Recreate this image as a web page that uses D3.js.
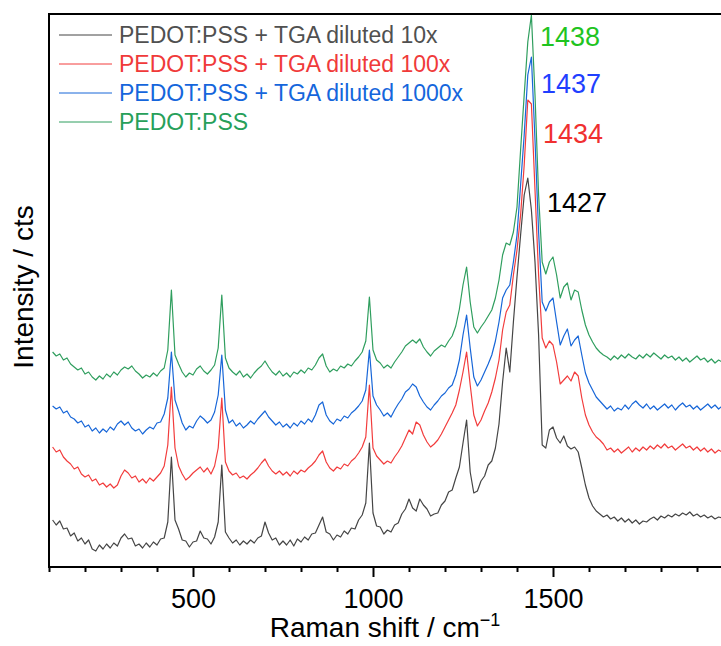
<!DOCTYPE html>
<html>
<head>
<meta charset="utf-8">
<script src="https://cdn.jsdelivr.net/npm/d3@7"></script>
<style>
  body { margin: 0; background: #fff; }
  svg { display: block; font-family: "Liberation Sans", Arial, sans-serif; }
</style>
</head>
<body>
<div id="chart"></div>
<script>
// Raman shift grid (cm-1)
const wavenumbers = [
  110, 120, 130, 140, 150, 160, 170, 180, 190, 200,
  210, 220, 230, 240, 250, 260, 270, 280, 290, 300,
  310, 320, 330, 340, 350, 360, 370, 380, 390, 400,
  410, 420, 430, 440, 450, 460, 470, 480, 490, 500,
  510, 520, 530, 540, 550, 560, 570, 580, 590, 600,
  610, 620, 630, 640, 650, 660, 670, 680, 690, 700,
  710, 720, 730, 740, 750, 760, 770, 780, 790, 800,
  810, 820, 830, 840, 850, 860, 870, 880, 890, 900,
  910, 920, 930, 940, 950, 960, 970, 980, 990, 1000,
  1010, 1020, 1030, 1040, 1050, 1060, 1070, 1080, 1090, 1100,
  1110, 1120, 1130, 1140, 1150, 1160, 1170, 1180, 1190, 1200,
  1210, 1220, 1230, 1240, 1250, 1260, 1270, 1280, 1290, 1300,
  1310, 1320, 1330, 1340, 1350, 1360, 1370, 1380, 1390, 1400,
  1410, 1420, 1430, 1440, 1450, 1460, 1470, 1480, 1490, 1500,
  1510, 1520, 1530, 1540, 1550, 1560, 1570, 1580, 1590, 1600,
  1610, 1620, 1630, 1640, 1650, 1660, 1670, 1680, 1690, 1700,
  1710, 1720, 1730, 1740, 1750, 1760, 1770, 1780, 1790, 1800,
  1810, 1820, 1830, 1840, 1850, 1860, 1870, 1880, 1890, 1900,
  1910, 1920, 1930, 1940, 1950, 1960, 1970
];

// stacked intensities (cts, offset for display)
const tga10 = [
  80, 75, 79, 71, 72, 64, 67, 59, 62, 56,
  60, 51, 49, 55, 51, 56, 52, 57, 54, 62,
  66, 61, 62, 54, 56, 52, 57, 53, 58, 55,
  61, 62, 78, 143, 80, 71, 60, 59, 53, 58,
  59, 69, 62, 61, 56, 63, 78, 135, 68, 62,
  57, 60, 55, 59, 56, 60, 57, 62, 64, 78,
  67, 60, 62, 55, 59, 55, 60, 54, 61, 58,
  63, 60, 66, 67, 75, 83, 68, 66, 60, 65,
  63, 69, 66, 72, 71, 80, 85, 97, 157, 87,
  74, 73, 66, 70, 68, 75, 77, 86, 91, 101,
  92, 89, 101, 95, 91, 84, 86, 87, 95, 99,
  108, 110, 122, 133, 157, 180, 128, 107, 109, 119,
  124, 135, 139, 152, 176, 218, 252, 228, 278, 323,
  365, 405, 422, 390, 338, 265, 155, 152, 170, 173,
  162, 157, 164, 154, 151, 153, 148, 132, 115, 102,
  94, 89, 86, 83, 85, 81, 83, 79, 82, 78,
  81, 77, 80, 76, 79, 78, 81, 83, 80, 84,
  82, 85, 83, 86, 84, 87, 85, 88, 84, 86,
  83, 85, 82, 84, 81, 83, 82
];

const tga100 = [
  153, 148, 150, 143, 139, 136, 131, 133, 126, 123,
  125, 119, 121, 115, 117, 113, 116, 112, 115, 124,
  130, 127, 122, 124, 118, 121, 117, 122, 119, 123,
  127, 134, 155, 213, 152, 134, 126, 120, 123, 127,
  130, 133, 128, 132, 126, 134, 152, 202, 138, 129,
  125, 127, 122, 124, 121, 125, 128, 132, 137, 141,
  134, 129, 126, 129, 125, 128, 124, 129, 126, 130,
  128, 132, 135, 139, 145, 149, 138, 132, 129, 133,
  131, 136, 134, 139, 142, 147, 153, 163, 215, 152,
  144, 140, 136, 139, 137, 143, 148, 154, 162, 170,
  166, 178, 175, 165, 158, 153, 156, 160, 166, 173,
  180, 187, 195, 210, 228, 248, 215, 185, 174, 180,
  189, 197, 208, 222, 240, 270, 288, 295, 325, 350,
  385, 435, 500, 496, 410, 325, 262, 252, 259, 255,
  238, 216, 220, 224, 219, 228, 224, 202, 185, 175,
  168, 163, 160, 156, 150, 152, 148, 151, 147, 150,
  153, 148, 152, 149, 153, 150, 154, 151, 155, 152,
  156, 152, 154, 150, 153, 156, 152, 154, 150, 153,
  149, 152, 148, 151, 147, 150, 148
];

const tga1000 = [
  194, 191, 193, 187, 189, 183, 181, 177, 179, 173,
  175, 169, 172, 167, 171, 168, 173, 170, 176, 179,
  175, 178, 172, 169, 171, 166, 170, 173, 171, 177,
  178, 186, 202, 248, 200, 189, 177, 170, 174, 172,
  179, 184, 181, 177, 180, 188, 205, 245, 190, 177,
  180, 174, 177, 172, 175, 179, 176, 181, 185, 189,
  183, 179, 175, 178, 173, 176, 172, 177, 174, 179,
  176, 181, 178, 185, 195, 198, 185, 179, 176, 181,
  179, 184, 182, 187, 190, 194, 199, 210, 250, 204,
  195, 190, 184, 187, 183, 190, 196, 201, 208, 211,
  216, 213, 204, 198, 193, 190, 195, 199, 204, 207,
  212, 215, 225, 240, 265, 285, 252, 223, 214, 220,
  228, 236, 245, 259, 278, 302, 310, 315, 338, 365,
  415, 465, 525, 543, 460, 368, 298, 289, 298, 302,
  278, 255, 264, 271, 254, 260, 264, 245, 227, 217,
  210, 203, 199, 195, 191, 194, 189, 192, 190, 195,
  191, 196, 199, 195, 192, 196, 191, 194, 190, 193,
  196, 192, 195, 190, 194, 197, 193, 195, 191, 194,
  190, 193, 196, 192, 195, 191, 194
];

const pristine = [
  248, 244, 246, 240, 242, 236, 233, 230, 232, 226,
  228, 223, 220, 224, 221, 226, 223, 228, 225, 230,
  233, 231, 234, 229, 226, 222, 225, 223, 227, 224,
  229, 232, 250, 310, 245, 236, 228, 223, 227, 225,
  231, 234, 229, 226, 230, 235, 252, 305, 242, 232,
  228, 225, 229, 223, 226, 222, 227, 231, 234, 239,
  233, 228, 225, 229, 224, 227, 223, 228, 226, 230,
  227, 232, 230, 235, 242, 246, 234, 228, 231, 229,
  234, 232, 236, 234, 239, 243, 248, 259, 303, 250,
  240, 237, 232, 235, 232, 238, 243, 248, 254, 257,
  260, 257, 261, 253, 248, 244, 249, 252, 255, 253,
  259, 264, 274, 291, 315, 333, 298, 273, 267, 273,
  278, 284, 290, 302, 320, 345, 357, 355, 368, 393,
  450, 505, 558, 585, 505, 405, 338, 326, 338, 343,
  325, 302, 313, 317, 300, 310, 308, 290, 275, 265,
  258, 252, 248, 245, 243, 240, 244, 241, 245, 242,
  246, 243, 241, 245, 242, 246, 243, 247, 244, 241,
  245, 242, 244, 240, 243, 239, 242, 238, 241, 244,
  240, 242, 238, 241, 237, 240, 238
];

const seriesNames = [
  'PEDOT:PSS + TGA diluted 10x',
  'PEDOT:PSS + TGA diluted 100x',
  'PEDOT:PSS + TGA diluted 1000x',
  'PEDOT:PSS'
];
const seriesValues = [tga10, tga100, tga1000, pristine];
const lineColors = ['#454545', '#f23c3c', '#1766d8', '#2f9e5e'];
const legendTextColors = ['#505050', '#f03a3a', '#1566dc', '#27a05a'];

const peakLabels = ['1427', '1434', '1437', '1438'];
const peakLabelColors = ['#000000', '#f03030', '#1f3fff', '#1fc41f'];
const peakLabelPos = [[547, 212], [543, 143], [541, 93], [540, 46]];

const majorTicks = [500, 1000, 1500];
const minorTicks = [100, 200, 300, 400, 600, 700, 800, 900, 1100, 1200, 1300, 1400, 1600, 1700, 1800, 1900];

const width = 721, height = 646;
const margin = { left: 49, top: 14, bottom: 79 };
const plotRight = 733;

const svg = d3.select('#chart')
  .append('svg')
  .attr('width', width)
  .attr('height', height);

const x = d3.scaleLinear()
  .domain([100, 2000])
  .range([margin.left, plotRight]);

const y = d3.scaleLinear()
  .domain([33, 586])
  .range([height - margin.bottom, margin.top]);

const plotBottom = height - margin.bottom;

// spectra
const line = d3.line()
  .x((d, i) => x(wavenumbers[i]))
  .y(d => y(d));

svg.append('g')
  .selectAll('path')
  .data(seriesValues)
  .enter()
  .append('path')
  .attr('d', d => line(d))
  .attr('fill', 'none')
  .attr('stroke', (d, i) => lineColors[i])
  .attr('stroke-width', 1.2)
  .attr('stroke-linejoin', 'round');

// frame
svg.append('rect')
  .attr('x', margin.left)
  .attr('y', margin.top)
  .attr('width', plotRight - margin.left)
  .attr('height', plotBottom - margin.top)
  .attr('fill', 'none')
  .attr('stroke', '#000')
  .attr('stroke-width', 2);

// x axis: major + minor ticks
const xAxis = d3.axisBottom(x)
  .tickValues(majorTicks)
  .tickSize(10)
  .tickPadding(12)
  .tickFormat(d3.format('d'));

const gx = svg.append('g')
  .attr('transform', `translate(0,${plotBottom})`)
  .call(xAxis);
gx.select('.domain').remove();
gx.selectAll('.tick line').attr('stroke', '#000').attr('stroke-width', 2);
gx.selectAll('.tick text')
  .attr('fill', '#000')
  .style('font-size', '27px')
  .style('font-family', '"Liberation Sans", Arial, sans-serif');

const gxMinor = svg.append('g')
  .attr('transform', `translate(0,${plotBottom})`)
  .call(d3.axisBottom(x).tickValues(minorTicks).tickSize(5).tickFormat(''));
gxMinor.select('.domain').remove();
gxMinor.selectAll('.tick line').attr('stroke', '#000').attr('stroke-width', 2);

// axis titles
const xTitle = svg.append('text')
  .attr('x', 385)
  .attr('y', 637)
  .attr('text-anchor', 'middle')
  .style('font-size', '28px')
  .attr('fill', '#000');
xTitle.append('tspan').text('Raman shift / cm');
xTitle.append('tspan').text('\u22121').attr('dy', -11).style('font-size', '18px');

svg.append('text')
  .attr('transform', 'translate(33,287) rotate(-90)')
  .attr('text-anchor', 'middle')
  .style('font-size', '28px')
  .attr('fill', '#000')
  .text('Intensity / cts');

// legend
const legend = svg.append('g');
const legendRows = legend.selectAll('g')
  .data(seriesNames)
  .enter()
  .append('g')
  .attr('transform', (d, i) => `translate(0,${35 + i * 29})`);

legendRows.append('line')
  .attr('x1', 59).attr('x2', 112)
  .attr('y1', 0).attr('y2', 0)
  .attr('stroke', (d, i) => lineColors[i])
  .attr('stroke-width', 1);

legendRows.append('text')
  .attr('x', 119)
  .attr('y', 8)
  .style('font-size', '23px')
  .attr('fill', (d, i) => legendTextColors[i])
  .text(d => d);

// peak position labels
svg.append('g')
  .selectAll('text')
  .data(peakLabels)
  .enter()
  .append('text')
  .attr('x', (d, i) => peakLabelPos[i][0])
  .attr('y', (d, i) => peakLabelPos[i][1])
  .style('font-size', '27px')
  .attr('fill', (d, i) => peakLabelColors[i])
  .text(d => d);
</script>
</body>
</html>
